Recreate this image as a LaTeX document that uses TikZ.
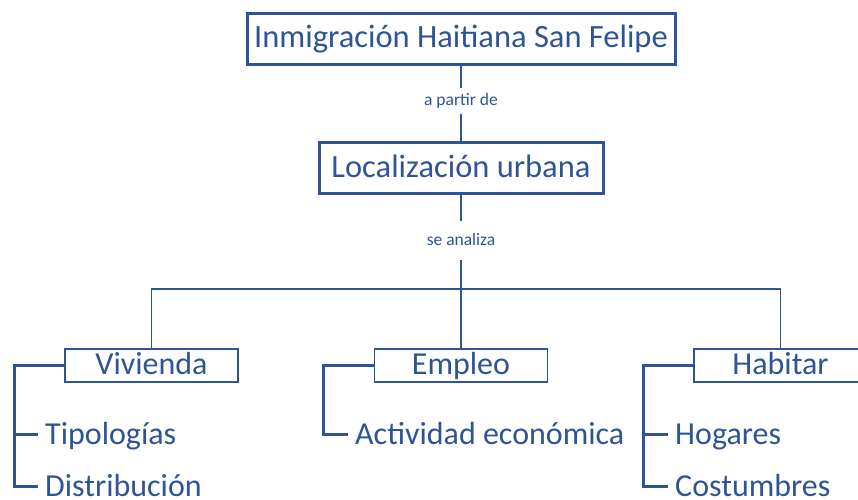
\documentclass[tikz,border=0pt]{standalone}
\usepackage{fontspec}
\setmainfont{Carlito}
\definecolor{mapblue}{RGB}{47,84,150}
\tikzset{
  mainbox/.style={draw=mapblue, line width=3pt, text=mapblue, font=\fontsize{32.5}{38}\selectfont,
    text height=24pt, text depth=6pt, minimum height=51pt, inner sep=0pt},
  subbox/.style={draw=mapblue, line width=1.2pt, text=mapblue, font=\fontsize{32}{38}\selectfont,
    text height=24pt, text depth=6pt, minimum width=173pt, minimum height=33pt, inner sep=0pt},
  linklabel/.style={text=mapblue, font=\fontsize{17.5}{21}\selectfont, text height=13pt, text depth=4pt, inner sep=0pt},
  item/.style={text=mapblue, font=\fontsize{32}{38}\selectfont, anchor=west,
    text height=20pt, text depth=0pt, inner xsep=7pt, inner ysep=0pt},
  link/.style={draw=mapblue, line width=1.5pt},
  bracket/.style={draw=mapblue, line width=3pt},
}

\begin{document}
\begin{tikzpicture}[x=1pt,y=-1pt]
  \useasboundingbox (0,0) rectangle (858,499);

  \node[mainbox, minimum width=428pt] (title) at (461,38.5) {Inmigración Haitiana San Felipe};
  \node[linklabel, minimum height=25pt] (via) at (461,101) {a partir de};
  \node[mainbox, minimum width=284pt] (loc) at (461,168) {Localización urbana};
  \node[linklabel, minimum height=39pt] (ana) at (461,240.5) {se analiza};
  \coordinate (bus) at (461,289);

  \draw[link] (title) -- (via) -- (loc);
  \draw[link] (loc) -- (ana) -- (bus);

  \node[subbox] (viv) at (151.5,365.5) {Vivienda};
  \node[subbox] (emp) at (461,365.5) {Empleo};
  \node[subbox] (hab) at (780.5,365.5) {Habitar};

  \draw[link] (viv.north) |- (bus) -| (hab.north);
  \draw[link] (bus) -- (emp);

  % vivienda
  \coordinate (vivb) at (14,365.5);
  \node[item] (tipo) at (38,434) {Tipologías};
  \node[item] (dist) at (38,486) {Distribución};
  \draw[bracket] (viv.west) -- (vivb) |- (dist.west);
  \draw[bracket] (vivb |- tipo.west) -- (tipo.west);

  % empleo
  \coordinate (empb) at (323,365.5);
  \node[item] (act) at (348,434) {Actividad económica};
  \draw[bracket] (emp.west) -- (empb) |- (act.west);

  % habitar
  \coordinate (habb) at (643,365.5);
  \node[item] (hog) at (668,434) {Hogares};
  \node[item] (cost) at (668,486) {Costumbres};
  \draw[bracket] (hab.west) -- (habb) |- (cost.west);
  \draw[bracket] (habb |- hog.west) -- (hog.west);

\end{tikzpicture}
\end{document}
